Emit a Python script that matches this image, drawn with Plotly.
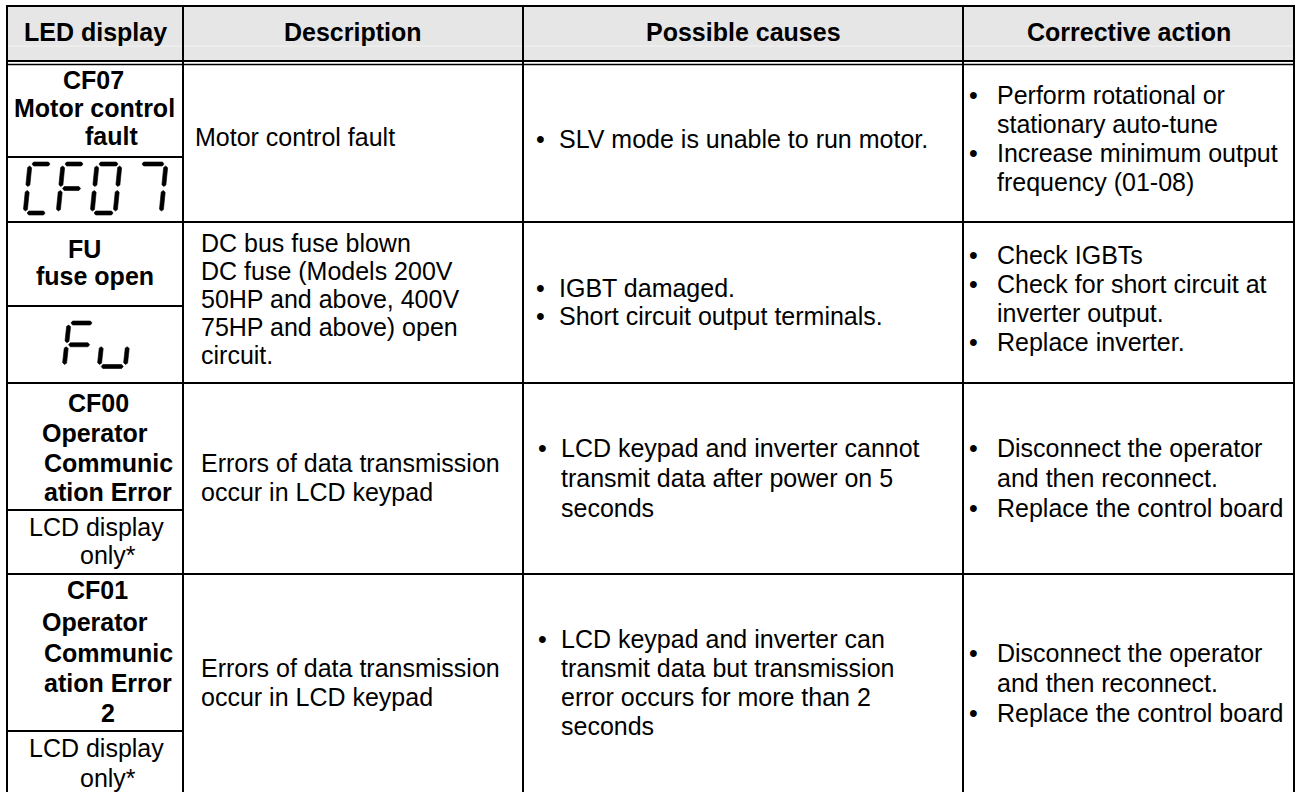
import plotly.graph_objects as go

W, H = 1304, 792

# ---------------- table content ----------------
headers = ["LED display", "Description", "Possible causes", "Corrective action"]

led_names = [
    ["CF07", "Motor control", "fault"],
    ["FU", "fuse open"],
    ["CF00", "Operator", "Communic", "ation Error"],
    ["CF01", "Operator", "Communic", "ation Error", "2"],
]
led_glyphs = ["CF07", "Fu", "", ""]          # 7-segment readouts
led_notes = [[], [], ["LCD display", "only*"], ["LCD display", "only*"]]

descriptions = [
    ["Motor control fault"],
    ["DC bus fuse blown", "DC fuse (Models 200V", "50HP and above, 400V",
     "75HP and above) open", "circuit."],
    ["Errors of data transmission", "occur in LCD keypad"],
    ["Errors of data transmission", "occur in LCD keypad"],
]
causes = [
    ["• SLV mode is unable to run motor."],
    ["• IGBT damaged.", "• Short circuit output terminals."],
    ["• LCD keypad and inverter cannot", "transmit data after power on 5", "seconds"],
    ["• LCD keypad and inverter can", "transmit data but transmission",
     "error occurs for more than 2", "seconds"],
]
actions = [
    ["• Perform rotational or", "stationary auto-tune", "• Increase minimum output",
     "frequency (01-08)"],
    ["• Check IGBTs", "• Check for short circuit at", "inverter output.", "• Replace inverter."],
    ["• Disconnect the operator", "and then reconnect.", "• Replace the control board"],
    ["• Disconnect the operator", "and then reconnect.", "• Replace the control board"],
]

# which segments are lit for each 7-segment character
SEGMENTS = {"C": "adef", "F": "aefg", "0": "abcdef", "7": "abc", "u": "cde"}

# ---------------- layout constants ----------------
col_x = [7, 183, 523, 963, 1294]
top_y = 6
head_y1, head_y2 = 61, 64.5
row_y = [63, 222, 383, 574, 792]
sub_y = [157, 306, 510, 731]

led_line_y = [[80, 108, 136], [249, 276], [403, 433, 463, 492], [590, 622, 653, 683, 713]]
led_line_x = [[93.5, 94.5, 111.5], [84, 95], [98, 95, 108, 108], [97, 95, 108, 108, 107.5]]
note_y = [[], [], [527, 555], [748, 778]]
note_x = [96, 108]
desc_x = [193, 199, 199, 199]
desc_y = [[137], [243, 271, 299, 327, 355], [463, 492], [668, 697]]
cause_y = [[139], [288, 316], [448, 478, 508], [639, 668, 697, 726]]
cause_bx = [540, 540, 542, 542]
cause_tx = [557, 557, 559, 559]
action_y = [[95, 124, 153, 182], [255, 284, 313, 342], [448, 478, 508], [653, 683, 713]]
action_bx, action_tx = 973, 995

glyph_params = [
    dict(lefts=[30, 63, 97, 140], widths=[22, 22, 23, 26], top=164, bottom=213, slant=-0.1),
    dict(lefts=[69, 104], widths=[25, 26], top=323, bottom=366.5, slant=-0.11),
    None, None,
]

FONT = "Liberation Sans, Arial, sans-serif"
FS = 25

fig = go.Figure()
annotations = []
shapes = []


def txt(x, y, s, anchor="left", bold=False, size=FS):
    annotations.append(dict(
        x=x, y=y, xref="x", yref="y", text=f"<b>{s}</b>" if bold else s,
        showarrow=False, xanchor=anchor, yanchor="middle",
        font=dict(family=FONT, size=size, color="black")))


def line(x0, y0, x1, y1, w=2, color="black"):
    shapes.append(dict(type="line", xref="x", yref="y", x0=x0, y0=y0, x1=x1, y1=y1,
                       line=dict(color=color, width=w), layer="above"))


# header background
shapes.append(dict(type="rect", xref="x", yref="y", x0=col_x[0], x1=col_x[-1],
                   y0=top_y, y1=head_y1, fillcolor="#e6e6e6", line=dict(width=0), layer="below"))
line(col_x[0], 46, col_x[-1], 46, w=1, color="#f3f3f3")

# grid lines
line(col_x[0], top_y, col_x[-1], top_y)
line(col_x[0], head_y1, col_x[-1], head_y1)
line(col_x[0], head_y2, col_x[-1], head_y2, w=1.5)
for yy in row_y[1:-1]:
    line(col_x[0], yy, col_x[-1], yy)
for yy in sub_y:
    line(col_x[0], yy, col_x[1], yy)
for xx in col_x:
    line(xx, top_y - 1, xx, H + 2)

# header text
for i, h in enumerate(headers):
    txt((col_x[i] + col_x[i + 1]) / 2, 32, h, anchor="center", bold=True)


def bullet_lines(lines, ys, bx, tx):
    for s, y in zip(lines, ys):
        if s.startswith("• "):
            txt(bx, y, "•", anchor="center")
            txt(tx, y, s[2:])
        else:
            txt(tx, y, s)


for r in range(4):
    for s, x, y in zip(led_names[r], led_line_x[r], led_line_y[r]):
        txt(x, y, s, anchor="center", bold=True)
    for s, x, y in zip(led_notes[r], note_x, note_y[r]):
        txt(x, y, s, anchor="center")
    for s, y in zip(descriptions[r], desc_y[r]):
        txt(desc_x[r], y, s)
    bullet_lines(causes[r], cause_y[r], cause_bx[r], cause_tx[r])
    bullet_lines(actions[r], action_y[r], action_bx, action_tx)


# 7-segment readouts
def seg_poly(p1, p2, gap=2.0, t=2.0):
    dx, dy = p2[0] - p1[0], p2[1] - p1[1]
    l = (dx * dx + dy * dy) ** 0.5
    ux, uy = dx / l, dy / l
    nx, ny = -uy, ux
    ax, ay = p1[0] + ux * gap, p1[1] + uy * gap
    bx, by = p2[0] - ux * gap, p2[1] - uy * gap
    tp = t * 0.8
    return [(ax, ay), (ax + ux * tp + nx * t, ay + uy * tp + ny * t),
            (bx - ux * tp + nx * t, by - uy * tp + ny * t), (bx, by),
            (bx - ux * tp - nx * t, by - uy * tp - ny * t),
            (ax + ux * tp - nx * t, ay + uy * tp - ny * t), (ax, ay)]


sx, sy = [], []
for r, g in enumerate(led_glyphs):
    p = glyph_params[r]
    if not g or p is None:
        continue
    top, bot, k = p["top"], p["bottom"], p["slant"]
    mid = (top + bot) / 2
    for ch, L, wd in zip(g, p["lefts"], p["widths"]):
        def P(x, y):
            return (x + k * (y - top), y)
        TL, TR = P(L, top), P(L + wd, top)
        ML, MR = P(L, mid), P(L + wd, mid)
        BL, BR = P(L, bot), P(L + wd, bot)
        segs = {"a": (TL, TR), "b": (TR, MR), "c": (MR, BR), "d": (BL, BR),
                "e": (ML, BL), "f": (TL, ML), "g": (ML, MR)}
        for sname in SEGMENTS[ch]:
            for (x, y) in seg_poly(*segs[sname]):
                sx.append(x)
                sy.append(y)
            sx.append(None)
            sy.append(None)

fig.add_trace(go.Scatter(x=sx, y=sy, mode="lines", fill="toself", fillcolor="black",
                         line=dict(color="black", width=0.6), hoverinfo="skip",
                         showlegend=False))

fig.update_layout(
    width=W, height=H, margin=dict(l=0, r=0, t=0, b=0),
    paper_bgcolor="white", plot_bgcolor="white",
    xaxis=dict(range=[0, W], visible=False, fixedrange=True),
    yaxis=dict(range=[H, 0], visible=False, fixedrange=True),
    annotations=annotations, shapes=shapes, showlegend=False,
)

# remove the default 8px page margin so that axis units equal window pixels
fig.write_html("out.html", config={"displayModeBar": False},
               post_script="document.body.style.margin='0px';document.body.style.overflow='hidden';")
